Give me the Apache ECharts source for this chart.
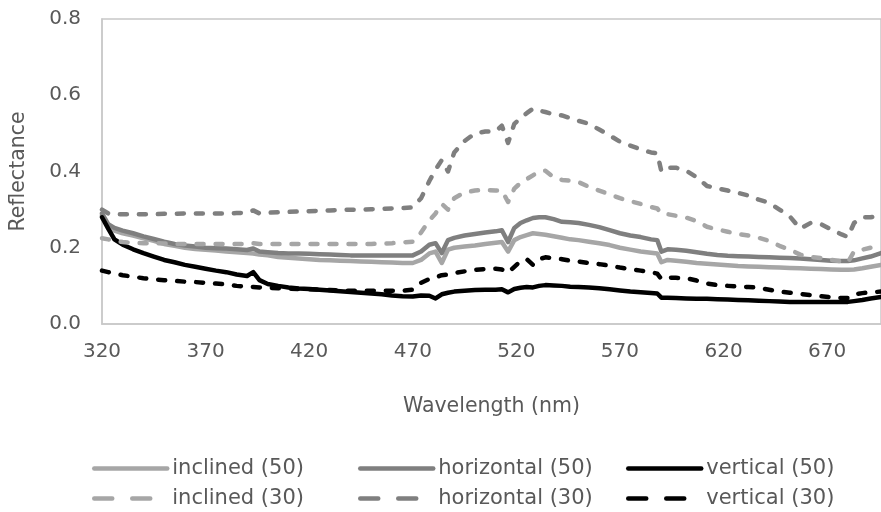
<!DOCTYPE html>
<html>
<head>
<meta charset="utf-8">
<script src="https://cdn.jsdelivr.net/npm/echarts@6/dist/echarts.min.js"></script>
<style>
  html, body { margin: 0; padding: 0; background: #fff; }
  #chart { width: 881px; height: 512px; }
</style>
</head>
<body>
<div id="chart"></div>
<script>
// wavelength (nm)
var wavelengths = [320,323,326,330,335,340,345,350,355,360,365,370,375,380,385,390,393,396,400,405,
    410,415,420,425,430,435,440,445,450,455,460,465,470,474,478,481,484,487,490,495,
    500,505,510,513,516,519,522,525,528,531,534,538,542,546,550,555,560,565,570,575,
    580,585,588,590,593,597,602,607,612,617,622,627,632,637,642,647,652,657,662,667,
    672,677,680,683,687,691,696];

var inclined50 = [0.285,0.255,0.245,0.238,0.232,0.225,0.218,0.21,0.205,0.2,
    0.197,0.195,0.193,0.19,0.188,0.186,0.185,0.182,0.18,0.176,
    0.174,0.172,0.17,0.168,0.167,0.166,0.165,0.164,0.163,0.162,
    0.161,0.16,0.16,0.168,0.185,0.19,0.16,0.195,0.2,0.203,
    0.206,0.21,0.213,0.215,0.19,0.22,0.228,0.233,0.238,0.236,
    0.234,0.23,0.226,0.222,0.22,0.216,0.212,0.207,0.2,0.195,
    0.19,0.187,0.185,0.162,0.168,0.166,0.163,0.16,0.158,0.156,
    0.154,0.152,0.151,0.15,0.149,0.148,0.147,0.146,0.145,0.144,
    0.143,0.142,0.142,0.143,0.146,0.15,0.155];

var horizontal50 = [0.29,0.262,0.252,0.245,0.238,0.23,0.223,0.216,0.21,0.206,
    0.203,0.2,0.199,0.198,0.196,0.194,0.198,0.19,0.188,0.186,
    0.185,0.185,0.184,0.183,0.182,0.181,0.18,0.18,0.18,0.18,
    0.18,0.18,0.18,0.19,0.208,0.212,0.186,0.22,0.226,0.232,
    0.236,0.24,0.243,0.246,0.215,0.252,0.265,0.272,0.278,0.28,
    0.28,0.275,0.268,0.267,0.265,0.26,0.254,0.246,0.238,0.232,
    0.228,0.222,0.22,0.19,0.196,0.195,0.192,0.188,0.184,0.181,
    0.179,0.178,0.177,0.176,0.175,0.174,0.173,0.172,0.17,0.168,
    0.166,0.165,0.165,0.167,0.172,0.177,0.186];

var vertical50 = [0.28,0.25,0.222,0.208,0.196,0.186,0.177,0.168,0.162,0.155,
    0.15,0.145,0.14,0.136,0.13,0.126,0.136,0.115,0.105,0.1,
    0.096,0.093,0.092,0.09,0.088,0.086,0.084,0.082,0.08,0.078,
    0.075,0.073,0.072,0.075,0.074,0.067,0.078,0.082,0.085,0.087,
    0.089,0.09,0.09,0.091,0.083,0.092,0.095,0.097,0.096,0.1,
    0.102,0.101,0.1,0.098,0.097,0.096,0.094,0.091,0.088,0.085,
    0.083,0.081,0.08,0.069,0.069,0.068,0.067,0.066,0.066,0.065,
    0.064,0.063,0.062,0.061,0.06,0.059,0.058,0.058,0.058,0.058,
    0.058,0.058,0.058,0.06,0.063,0.067,0.071];

var inclined30 = [0.225,0.222,0.218,0.215,0.213,0.212,0.212,0.211,0.21,0.21,
    0.21,0.21,0.21,0.21,0.21,0.21,0.212,0.21,0.21,0.21,
    0.21,0.21,0.21,0.21,0.21,0.21,0.21,0.21,0.21,0.211,
    0.212,0.214,0.216,0.24,0.272,0.29,0.315,0.3,0.33,0.345,
    0.35,0.352,0.35,0.35,0.32,0.355,0.37,0.38,0.39,0.4,
    0.402,0.385,0.378,0.376,0.372,0.36,0.35,0.34,0.33,0.322,
    0.315,0.307,0.303,0.29,0.288,0.284,0.279,0.27,0.255,0.248,
    0.242,0.236,0.232,0.226,0.218,0.205,0.195,0.182,0.176,0.173,
    0.168,0.164,0.162,0.19,0.195,0.2,0.205];

var horizontal30 = [0.3,0.29,0.288,0.288,0.288,0.288,0.288,0.289,0.289,0.29,
    0.29,0.29,0.29,0.29,0.291,0.292,0.298,0.29,0.292,0.293,
    0.294,0.295,0.296,0.297,0.298,0.299,0.3,0.3,0.301,0.302,
    0.303,0.304,0.306,0.33,0.375,0.405,0.43,0.4,0.45,0.48,
    0.5,0.505,0.505,0.52,0.475,0.525,0.54,0.553,0.565,0.56,
    0.556,0.55,0.547,0.54,0.533,0.525,0.51,0.495,0.478,0.468,
    0.458,0.45,0.448,0.4,0.41,0.41,0.402,0.385,0.362,0.356,
    0.35,0.344,0.337,0.326,0.318,0.3,0.282,0.25,0.265,0.262,
    0.248,0.235,0.228,0.265,0.28,0.28,0.285];

var vertical30 = [0.14,0.136,0.132,0.128,0.124,0.12,0.117,0.115,0.113,0.111,
    0.11,0.108,0.106,0.104,0.1,0.098,0.097,0.096,0.095,0.094,
    0.093,0.092,0.091,0.09,0.089,0.088,0.087,0.087,0.087,0.087,
    0.087,0.087,0.09,0.108,0.118,0.122,0.128,0.13,0.134,0.138,
    0.142,0.144,0.145,0.143,0.135,0.15,0.165,0.17,0.155,0.17,
    0.175,0.172,0.17,0.166,0.164,0.16,0.157,0.153,0.148,0.144,
    0.14,0.136,0.132,0.118,0.122,0.121,0.12,0.114,0.106,0.102,
    0.1,0.098,0.097,0.095,0.09,0.085,0.082,0.079,0.076,0.073,
    0.07,0.068,0.068,0.078,0.081,0.083,0.085];

var FONT = 'DejaVu Sans';
var TXT = '#595959';
var FS = 20;

function pairs(vals) {
    return wavelengths.map(function (w, i) { return [w, vals[i]]; });
}

function line(name, color, vals, dashed) {
    return {
        name: name,
        type: 'line',
        symbol: 'none',
        smooth: false,
        animation: false,
        lineStyle: {
            color: color,
            width: 4.5,
            cap: 'round',
            join: 'round',
            type: dashed ? [7, 12] : 'solid'
        },
        itemStyle: { color: color },
        data: pairs(vals)
    };
}

function legendItem(left, top, name, color, dashed) {
    return {
        left: left,
        top: top,
        itemWidth: 73,
        itemHeight: 14,
        itemStyle: { opacity: 0 },
        lineStyle: { color: color, width: 4.5, type: dashed ? [18, 20] : 'solid', cap: 'round', opacity: 1 },
        textStyle: { color: TXT, fontSize: 21, fontFamily: FONT },
        data: [name]
    };
}

var option = {
    backgroundColor: '#fff',
    animation: false,
    textStyle: { fontFamily: FONT },
    grid: {
        left: 101,
        right: 0,
        top: 19,
        bottom: 188,
        show: true,
        borderColor: '#c8c8c8',
        borderWidth: 1.5
    },
    legend: [
        legendItem(87, 453, 'inclined (50)', '#a6a6a6', false),
        legendItem(353, 453, 'horizontal (50)', '#7f7f7f', false),
        legendItem(621, 453, 'vertical (50)', '#000000', false),
        legendItem(87, 483, 'inclined (30)', '#a6a6a6', true),
        legendItem(353, 483, 'horizontal (30)', '#7f7f7f', true),
        legendItem(621, 483, 'vertical (30)', '#000000', true)
    ],
    xAxis: {
        type: 'value',
        min: 320,
        max: 696,
        interval: 50,
        name: 'Wavelength (nm)',
        nameLocation: 'middle',
        nameGap: 72,
        nameMoveOverlap: false,
        nameTextStyle: { color: TXT, fontSize: 20.5, fontFamily: FONT },
        axisLine: { show: true, lineStyle: { color: '#c8c8c8', width: 1.5 } },
        axisTick: { show: false },
        splitLine: { show: false },
        axisLabel: { color: TXT, fontSize: FS, fontFamily: FONT, margin: 18, showMaxLabel: false }
    },
    yAxis: {
        type: 'value',
        min: 0,
        max: 0.8,
        interval: 0.2,
        name: 'Reflectance',
        nameLocation: 'middle',
        nameGap: 73,
        nameMoveOverlap: false,
        nameTextStyle: { color: TXT, fontSize: 20.5, fontFamily: FONT },
        axisLine: { show: true, lineStyle: { color: '#c8c8c8', width: 1.5 } },
        axisTick: { show: false },
        splitLine: { show: false },
        axisLabel: {
            color: TXT, fontSize: FS, fontFamily: FONT, margin: 21, align: 'right',
            formatter: function (v) { return v.toFixed(1); }
        }
    },
    series: [
        line('inclined (50)', '#a6a6a6', inclined50, false),
        line('horizontal (50)', '#7f7f7f', horizontal50, false),
        line('vertical (50)', '#000000', vertical50, false),
        line('inclined (30)', '#a6a6a6', inclined30, true),
        line('horizontal (30)', '#7f7f7f', horizontal30, true),
        line('vertical (30)', '#000000', vertical30, true)
    ]
};

var chart = echarts.init(document.getElementById('chart'));
chart.setOption(option);
</script>
</body>
</html>
